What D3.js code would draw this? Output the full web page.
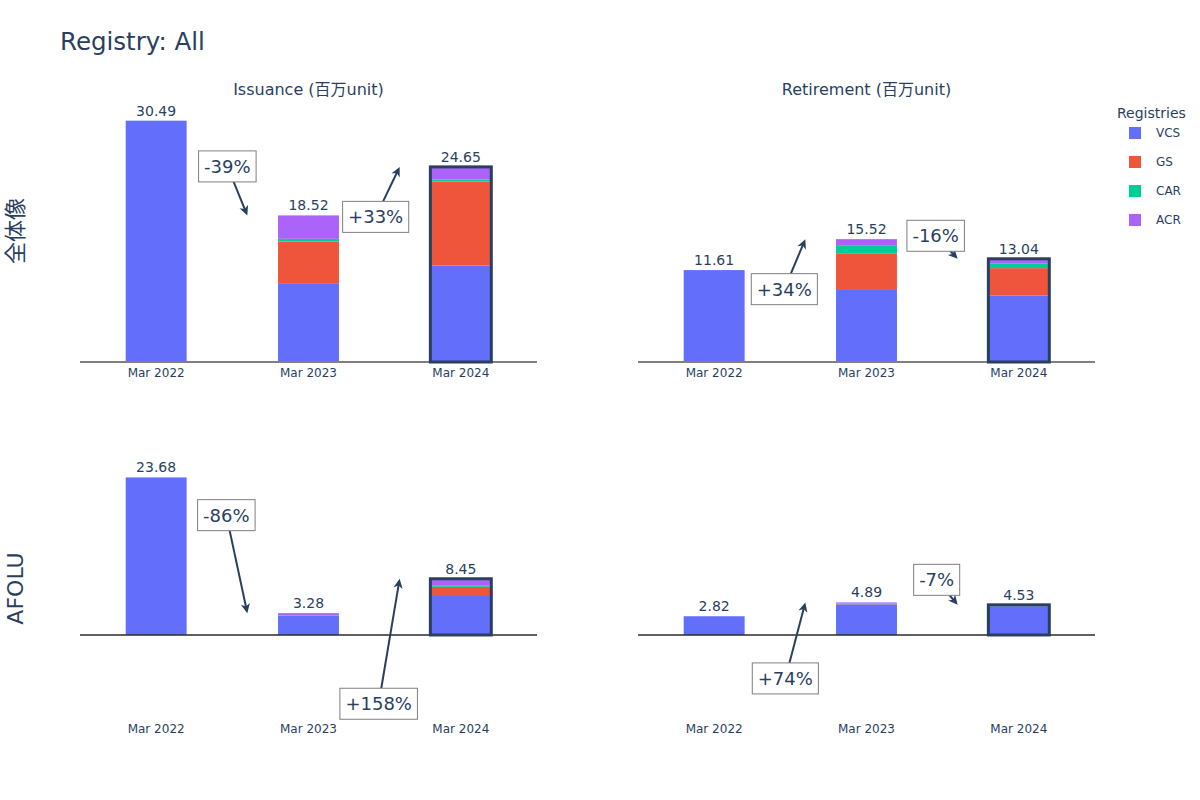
<!DOCTYPE html>
<html>
<head>
<meta charset="utf-8">
<script src="https://cdn.jsdelivr.net/npm/d3@7"></script>
<style>
  html, body { margin: 0; padding: 0; background: #fff; }
  svg { display: block; font-family: "DejaVu Sans", "Noto Sans CJK JP", sans-serif; }
</style>
</head>
<body>
<svg id="chart" width="1200" height="800"></svg>
<script>
// ---------------- DATA ----------------
const categories = ["Mar 2022", "Mar 2023", "Mar 2024"];
const registries = ["VCS", "GS", "CAR", "ACR"];

// Issuance, all (百万unit)
const issuanceAllVCS = [30.49, 9.96, 12.18];
const issuanceAllGS  = [0, 5.26, 10.63];
const issuanceAllCAR = [0, 0.34, 0.26];
const issuanceAllACR = [0, 2.96, 1.58];

// Retirement, all
const retirementAllVCS = [11.61, 9.21, 8.41];
const retirementAllGS  = [0, 4.46, 3.45];
const retirementAllCAR = [0, 1.09, 0.55];
const retirementAllACR = [0, 0.76, 0.63];

// Issuance, AFOLU
const issuanceAfoluVCS = [23.68, 2.86, 6.00];
const issuanceAfoluGS  = [0, 0.02, 1.24];
const issuanceAfoluCAR = [0, 0.10, 0.15];
const issuanceAfoluACR = [0, 0.30, 1.06];

// Retirement, AFOLU
const retirementAfoluVCS = [2.816, 4.604, 4.31];
const retirementAfoluGS  = [0, 0.03, 0.02];
const retirementAfoluCAR = [0, 0.10, 0.18];
const retirementAfoluACR = [0, 0.16, 0.02];

const columnTitles = ["Issuance (百万unit)", "Retirement (百万unit)"];
const rowTitles = ["全体像", "AFOLU"];
const chartTitle = "Registry: All";
const legendTitle = "Registries";

// ---------------- STYLE / LAYOUT ----------------
const colors = { VCS: "#636efa", GS: "#EF553B", CAR: "#00cc96", ACR: "#ab63fa" };
const textColor = "#2a3f5f";
const colX = [[80, 537], [638, 1095]];
const rowY = [{ top: 100, bottom: 362, domain: [0, 33.1] },
              { top: 462, bottom: 715, domain: [-12.03, 26.0] }];
// annotation label offsets from arrow tip (pixels) per panel [row][col][k]
const annOffsets = [
  [[[-20, -49], [-24, 50]], [[-21, 50], [-22, -23]]],
  [[[-21, -98], [-21, 125]], [[-20, 76], [-21, -25]]]
];

const panels = [
  { row: 0, col: 0, series: { VCS: issuanceAllVCS, GS: issuanceAllGS, CAR: issuanceAllCAR, ACR: issuanceAllACR } },
  { row: 0, col: 1, series: { VCS: retirementAllVCS, GS: retirementAllGS, CAR: retirementAllCAR, ACR: retirementAllACR } },
  { row: 1, col: 0, series: { VCS: issuanceAfoluVCS, GS: issuanceAfoluGS, CAR: issuanceAfoluCAR, ACR: issuanceAfoluACR } },
  { row: 1, col: 1, series: { VCS: retirementAfoluVCS, GS: retirementAfoluGS, CAR: retirementAfoluCAR, ACR: retirementAfoluACR } }
];

const svg = d3.select("#chart");
const fmt2 = d3.format(".2f");

// Title
svg.append("text").attr("x", 60).attr("y", 50)
  .attr("font-size", 24.5).attr("fill", textColor).text(chartTitle);

// Column titles
columnTitles.forEach((t, i) => {
  svg.append("text").attr("x", (colX[i][0] + colX[i][1]) / 2).attr("y", 95)
    .attr("text-anchor", "middle").attr("font-size", 16).attr("fill", textColor).text(t);
});

// Row titles
rowTitles.forEach((t, i) => {
  const cy = (rowY[i].top + rowY[i].bottom) / 2;
  svg.append("text")
    .attr("transform", `translate(23,${cy}) rotate(-90)`)
    .attr("text-anchor", "middle").attr("font-size", 22).attr("fill", textColor).text(t);
});

const arrowHead = "M0,0 L-9.5,-4.6 L-6.8,0 L-9.5,4.6 Z";

panels.forEach(p => {
  const x = d3.scaleBand().domain(categories).range(colX[p.col])
    .paddingInner(0.6).paddingOuter(0.3);
  const ry = rowY[p.row];
  const y = d3.scaleLinear().domain(ry.domain).range([ry.bottom, ry.top]);
  const g = svg.append("g");

  // stack
  const rows = categories.map((c, i) => {
    const o = { cat: c };
    registries.forEach(r => o[r] = p.series[r][i]);
    return o;
  });
  const stacked = d3.stack().keys(registries)(rows);
  const totals = rows.map(r => d3.sum(registries, k => r[k]));

  // axis
  const axisY = p.row === 0 ? ry.bottom : ry.bottom + 3;
  const ax = g.append("g").attr("transform", `translate(0,${axisY})`)
    .call(d3.axisBottom(x).tickSize(0).tickPadding(6));
  ax.select(".domain").remove();
  ax.selectAll("text").attr("font-size", 12).attr("fill", textColor)
    .attr("font-family", "DejaVu Sans, sans-serif");

  // bars
  stacked.forEach(layer => {
    g.append("g").selectAll("rect").data(layer).join("rect")
      .attr("x", d => x(d.data.cat))
      .attr("width", x.bandwidth())
      .attr("y", d => y(d[1]))
      .attr("height", d => Math.max(0, y(d[0]) - y(d[1])))
      .attr("fill", colors[layer.key]);
  });

  // baseline
  g.append("line").attr("x1", colX[p.col][0]).attr("x2", colX[p.col][1])
    .attr("y1", y(0)).attr("y2", y(0))
    .attr("stroke", p.row === 0 ? "#808080" : "#2b2b2b")
    .attr("stroke-width", p.row === 0 ? 2 : 1.5);

  // highlight last
  const lastCat = categories[categories.length - 1];
  g.append("rect")
    .attr("x", x(lastCat)).attr("width", x.bandwidth())
    .attr("y", y(totals[totals.length - 1]))
    .attr("height", y(0) - y(totals[totals.length - 1]))
    .attr("fill", "none").attr("stroke", "#2a3f5f").attr("stroke-width", 3);

  // total labels
  g.selectAll("text.total").data(totals).join("text").attr("class", "total")
    .attr("x", (d, i) => x(categories[i]) + x.bandwidth() / 2)
    .attr("y", d => y(d) - 5)
    .attr("text-anchor", "middle").attr("font-size", 14).attr("fill", textColor)
    .text(d => fmt2(d));

  // change annotations
  for (let k = 0; k < categories.length - 1; k++) {
    const pct = Math.round((totals[k + 1] / totals[k] - 1) * 100);
    const label = (pct > 0 ? "+" : "") + pct + "%";
    const midX = (x(categories[k]) + x(categories[k + 1]) + x.bandwidth()) / 2 + 15;
    const tipX = midX, tipY = y(totals[k + 1]);
    const off = annOffsets[p.row][p.col][k];
    const cx = tipX + off[0], cy = tipY + off[1];

    const ag = g.append("g");
    const txt = ag.append("text").attr("x", cx).attr("y", cy)
      .attr("text-anchor", "middle").attr("dominant-baseline", "central")
      .attr("font-size", 18).attr("fill", textColor).text(label);
    const bb = txt.node().getBBox();
    const bw = bb.width + 11, bh = 31;
    const dx = tipX - cx, dy = tipY - cy;
    const tx = dx !== 0 ? (bw / 2) / Math.abs(dx) : Infinity;
    const ty = dy !== 0 ? (bh / 2) / Math.abs(dy) : Infinity;
    const t0 = Math.min(tx, ty);
    const sx = cx + dx * t0, sy = cy + dy * t0;
    const ang = Math.atan2(dy, dx);
    const back = 6;
    ag.insert("line", "text")
      .attr("x1", sx).attr("y1", sy)
      .attr("x2", tipX - Math.cos(ang) * back).attr("y2", tipY - Math.sin(ang) * back)
      .attr("stroke", textColor).attr("stroke-width", 2);
    ag.insert("path", "text").attr("d", arrowHead)
      .attr("transform", `translate(${tipX},${tipY}) rotate(${ang * 180 / Math.PI})`)
      .attr("fill", textColor);
    ag.insert("rect", "text")
      .attr("x", cx - bw / 2).attr("y", cy - bh / 2)
      .attr("width", bw).attr("height", bh)
      .attr("fill", "#fff").attr("stroke", "#7f7f7f").attr("stroke-width", 1);
  }
});

// Legend
const lg = svg.append("g");
lg.append("text").attr("x", 1117).attr("y", 118).attr("font-size", 14)
  .attr("fill", textColor).text(legendTitle);
registries.forEach((r, i) => {
  const cy = 133 + i * 29;
  lg.append("rect").attr("x", 1129).attr("y", cy - 6).attr("width", 12).attr("height", 12)
    .attr("fill", colors[r]);
  lg.append("text").attr("x", 1156).attr("y", cy).attr("dominant-baseline", "central")
    .attr("font-size", 12).attr("fill", textColor).text(r);
});
</script>
</body>
</html>
